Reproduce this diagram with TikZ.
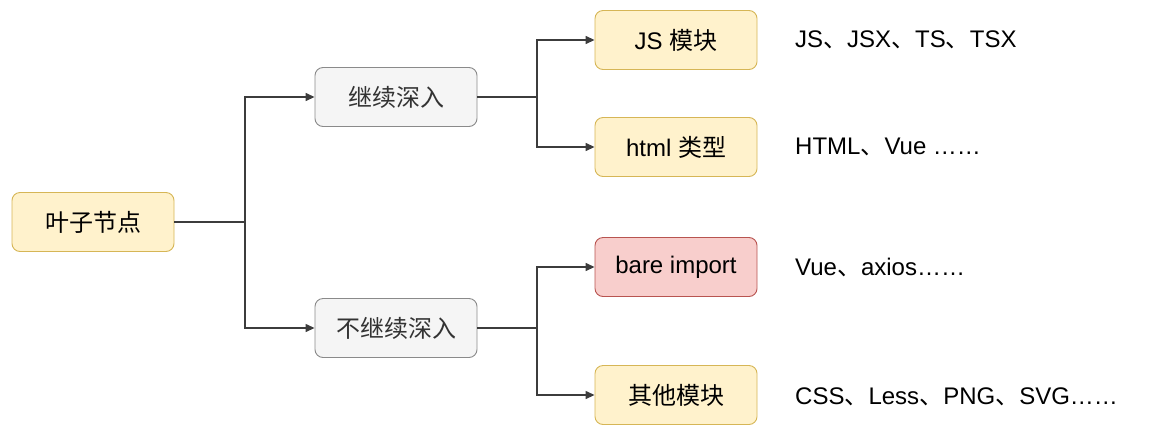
\documentclass[tikz,border=0pt]{standalone}
\usepackage{fontspec}
\setmainfont{Liberation Sans}
\newfontfamily\cjk{Noto Sans CJK SC}
\newcommand{\zh}[1]{{\cjk #1}}
\usetikzlibrary{arrows.meta}
\definecolor{yelfill}{HTML}{FFF2CC}
\definecolor{yeldraw}{HTML}{D6B656}
\definecolor{grayfill}{HTML}{F5F5F5}
\definecolor{graydraw}{HTML}{8A8A8A}
\definecolor{redfill}{HTML}{F8CECC}
\definecolor{reddraw}{HTML}{B85450}
\definecolor{linkcol}{HTML}{3C3C3C}

\begin{document}
\begin{tikzpicture}[x=1pt,y=-1pt,
  box/.style={rounded corners=8pt,line width=0.9pt,minimum width=162pt,minimum height=59pt,
    inner sep=0pt,font=\fontsize{24}{28}\selectfont},
  yelbox/.style={box,fill=yelfill,draw=yeldraw},
  graybox/.style={box,fill=grayfill,draw=graydraw,text=black!80},
  redbox/.style={box,fill=redfill,draw=reddraw},
  note/.style={anchor=west,inner sep=0pt,font=\fontsize{24}{28}\selectfont},
  link/.style={draw=linkcol,line width=1.4pt},
  arr/.style={link,-{Triangle[length=9pt,width=8pt]}}]
\useasboundingbox (0,0) rectangle (1153,429);
\node[yelbox] (leaf) at (93,222) {\zh{叶子节点}};
\node[graybox] (deep) at (396,97) {\zh{继续深入}};
\node[graybox] (nodeep) at (396,328) {\zh{不继续深入}};
\node[yelbox] (js) at (676,40) {JS \zh{模块}};
\node[yelbox] (html) at (676,147) {html \zh{类型}};
\node[redbox] (bare) at (676,267) {bare import};
\node[yelbox] (other) at (676,395) {\zh{其他模块}};
\node[note] (jsnote) at (795,40) {JS\zh{、}JSX\zh{、}TS\zh{、}TSX};
\node[note] (htmlnote) at (795,147) {HTML\zh{、}Vue ……};
\node[note] (barenote) at (795,267) {Vue\zh{、}axios……};
\node[note] (othernote) at (795,397) {CSS\zh{、}Less\zh{、}PNG\zh{、}SVG……};
% forks
\coordinate (f0) at (245,222);
\coordinate (f1) at (537,97);
\coordinate (f2) at (537,328);
\draw[link] (leaf.east) -- (f0);
\draw[arr] (f0) |- (deep.west);
\draw[arr] (f0) |- (nodeep.west);
\draw[link] (deep.east) -- (f1);
\draw[arr] (f1) |- (js.west);
\draw[arr] (f1) |- (html.west);
\draw[link] (nodeep.east) -- (f2);
\draw[arr] (f2) |- (bare.west);
\draw[arr] (f2) |- (other.west);
\end{tikzpicture}
\end{document}
